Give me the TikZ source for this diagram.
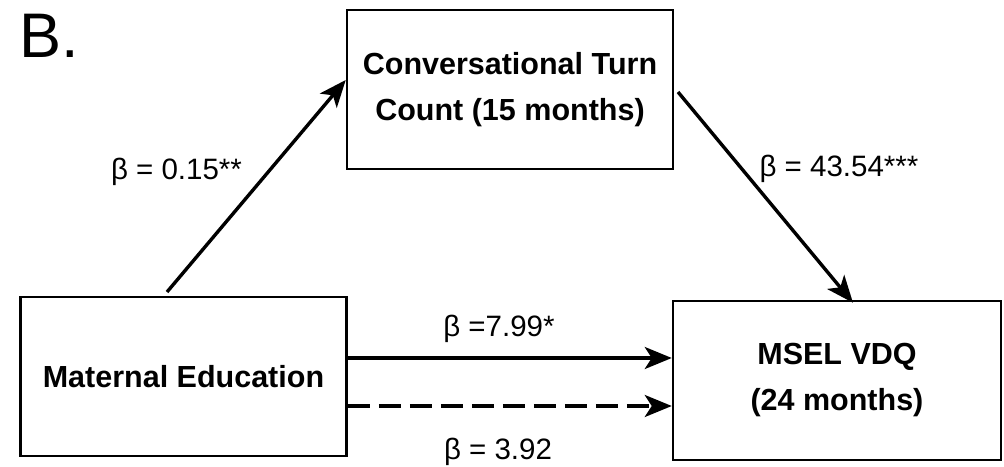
\documentclass[tikz,border=0pt]{standalone}
\usepackage{fontspec}
\setmainfont{Liberation Sans}
\usetikzlibrary{arrows.meta}
\begin{document}
\begin{tikzpicture}[x=1pt,y=1pt,
  varbox/.style={draw=black,line width=2.5pt,minimum width=326pt,minimum height=159pt,inner sep=0pt,align=center,
    font=\bfseries\fontsize{30.5}{46}\selectfont},
  path/.style={line width=3.4pt,-{Stealth[length=27pt,width=22pt,inset=7pt]}},
  coef/.style={font=\fontsize{29.5}{34}\selectfont,inner sep=0pt,anchor=base}]
\useasboundingbox (0,0) rectangle (1004,466);
\node[font=\fontsize{63}{70}\selectfont,anchor=base west,inner sep=0pt] (lbl) at (19,408) {B.};
\node[varbox] (ctc) at (510,376.5) {Conversational Turn\\Count (15 months)};
\node[varbox] (med) at (183.5,89.5) {Maternal Education};
\node[varbox,minimum width=328pt] (msel) at (837,85.5) {MSEL VDQ\\(24 months)};
\coordinate (a1s) at (167,174);
\coordinate (a2s) at (678,374);
\draw[path] (a1s) -- ([yshift=9.5pt]ctc.west);
\draw[path] (a2s) -- ([xshift=16pt,yshift=-3pt]msel.north);
\draw[path] ([yshift=18.5pt]med.east) -- ([yshift=22.5pt]msel.west);
\draw[path,dash pattern=on 22pt off 9pt] ([yshift=-29.5pt]med.east) -- ([yshift=-25.5pt]msel.west);
\node[coef] (b1) at (176.5,286) {β = 0.15**};
\node[coef] (b2) at (839,289) {β = 43.54***};
\node[coef] (b3) at (499,129) {β =7.99*};
\node[coef] (b4) at (498,7) {β = 3.92};
\end{tikzpicture}
\end{document}
